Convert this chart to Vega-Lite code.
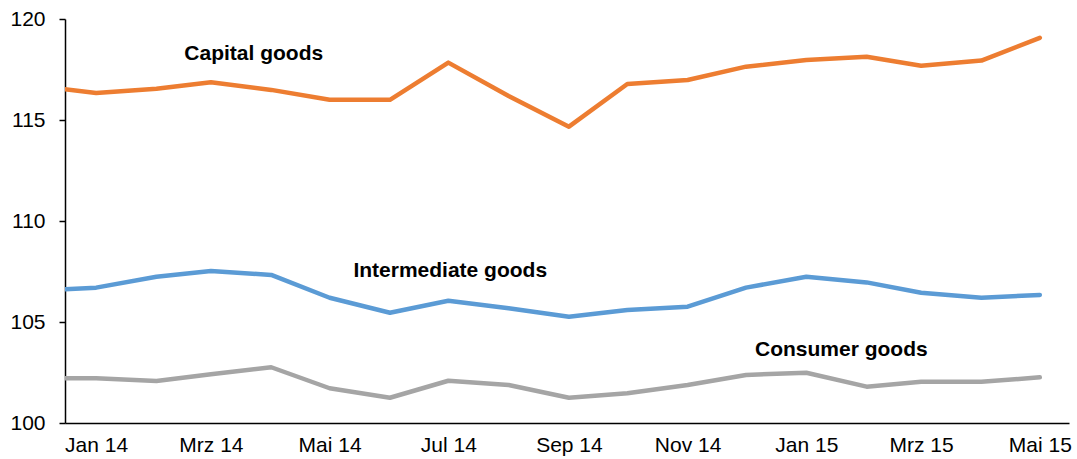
{
  "$schema": "https://vega.github.io/schema/vega-lite/v6.json",
  "width": 1004,
  "height": 404,
  "autosize": "none",
  "padding": {"left": 65, "top": 19, "right": 8, "bottom": 36},
  "background": "white",
  "config": {"view": {"stroke": null}, "font": "Liberation Sans"},
  "datasets": {
    "series": [
      {"date": "2013-12-01", "series": "Capital goods", "value": 116.7},
      {"date": "2014-01-01", "series": "Capital goods", "value": 116.34},
      {"date": "2014-02-01", "series": "Capital goods", "value": 116.55},
      {"date": "2014-03-01", "series": "Capital goods", "value": 116.87},
      {"date": "2014-04-01", "series": "Capital goods", "value": 116.49},
      {"date": "2014-05-01", "series": "Capital goods", "value": 116.0},
      {"date": "2014-06-01", "series": "Capital goods", "value": 116.0},
      {"date": "2014-07-01", "series": "Capital goods", "value": 117.84},
      {"date": "2014-08-01", "series": "Capital goods", "value": 116.19},
      {"date": "2014-09-01", "series": "Capital goods", "value": 114.67},
      {"date": "2014-10-01", "series": "Capital goods", "value": 116.78},
      {"date": "2014-11-01", "series": "Capital goods", "value": 116.98},
      {"date": "2014-12-01", "series": "Capital goods", "value": 117.64},
      {"date": "2015-01-01", "series": "Capital goods", "value": 117.97},
      {"date": "2015-02-01", "series": "Capital goods", "value": 118.13},
      {"date": "2015-03-01", "series": "Capital goods", "value": 117.69},
      {"date": "2015-04-01", "series": "Capital goods", "value": 117.94},
      {"date": "2015-05-01", "series": "Capital goods", "value": 119.07},
      {"date": "2013-12-01", "series": "Intermediate goods", "value": 106.54},
      {"date": "2014-01-01", "series": "Intermediate goods", "value": 106.7},
      {"date": "2014-02-01", "series": "Intermediate goods", "value": 107.24},
      {"date": "2014-03-01", "series": "Intermediate goods", "value": 107.52},
      {"date": "2014-04-01", "series": "Intermediate goods", "value": 107.33},
      {"date": "2014-05-01", "series": "Intermediate goods", "value": 106.2},
      {"date": "2014-06-01", "series": "Intermediate goods", "value": 105.46},
      {"date": "2014-07-01", "series": "Intermediate goods", "value": 106.05},
      {"date": "2014-08-01", "series": "Intermediate goods", "value": 105.68},
      {"date": "2014-09-01", "series": "Intermediate goods", "value": 105.26},
      {"date": "2014-10-01", "series": "Intermediate goods", "value": 105.59},
      {"date": "2014-11-01", "series": "Intermediate goods", "value": 105.76},
      {"date": "2014-12-01", "series": "Intermediate goods", "value": 106.7},
      {"date": "2015-01-01", "series": "Intermediate goods", "value": 107.24},
      {"date": "2015-02-01", "series": "Intermediate goods", "value": 106.96},
      {"date": "2015-03-01", "series": "Intermediate goods", "value": 106.45},
      {"date": "2015-04-01", "series": "Intermediate goods", "value": 106.2},
      {"date": "2015-05-01", "series": "Intermediate goods", "value": 106.34},
      {"date": "2013-12-01", "series": "Consumer goods", "value": 102.21},
      {"date": "2014-01-01", "series": "Consumer goods", "value": 102.21},
      {"date": "2014-02-01", "series": "Consumer goods", "value": 102.08},
      {"date": "2014-03-01", "series": "Consumer goods", "value": 102.41},
      {"date": "2014-04-01", "series": "Consumer goods", "value": 102.76},
      {"date": "2014-05-01", "series": "Consumer goods", "value": 101.72},
      {"date": "2014-06-01", "series": "Consumer goods", "value": 101.25},
      {"date": "2014-07-01", "series": "Consumer goods", "value": 102.09},
      {"date": "2014-08-01", "series": "Consumer goods", "value": 101.88},
      {"date": "2014-09-01", "series": "Consumer goods", "value": 101.25},
      {"date": "2014-10-01", "series": "Consumer goods", "value": 101.47},
      {"date": "2014-11-01", "series": "Consumer goods", "value": 101.88},
      {"date": "2014-12-01", "series": "Consumer goods", "value": 102.38},
      {"date": "2015-01-01", "series": "Consumer goods", "value": 102.49},
      {"date": "2015-02-01", "series": "Consumer goods", "value": 101.8},
      {"date": "2015-03-01", "series": "Consumer goods", "value": 102.04},
      {"date": "2015-04-01", "series": "Consumer goods", "value": 102.04},
      {"date": "2015-05-01", "series": "Consumer goods", "value": 102.26}
    ],
    "labels": [
      {"date": "2014-03-23", "value": 117.97, "label": "Capital goods"},
      {"date": "2014-07-02", "value": 107.24, "label": "Intermediate goods"},
      {"date": "2015-01-19", "value": 103.32, "label": "Consumer goods"}
    ]
  },
  "encoding": {
    "x": {
      "field": "date",
      "type": "temporal",
      "scale": {
        "type": "utc",
        "domain": [
          {"year": 2013, "month": 12, "date": 16, "utc": true},
          {"year": 2015, "month": 5, "date": 16, "utc": true}
        ]
      },
      "axis": {
        "title": null,
        "grid": false,
        "ticks": false,
        "domainColor": "#000000",
        "domainWidth": 1.5,
        "labelFont": "Liberation Sans",
        "labelFontSize": 21,
        "labelColor": "#000000",
        "labelPadding": 11,
        "labelFlush": false,
        "labelOverlap": false,
        "values": [
          {"year": 2014, "month": 1, "date": 1, "utc": true},
          {"year": 2014, "month": 3, "date": 1, "utc": true},
          {"year": 2014, "month": 5, "date": 1, "utc": true},
          {"year": 2014, "month": 7, "date": 1, "utc": true},
          {"year": 2014, "month": 9, "date": 1, "utc": true},
          {"year": 2014, "month": 11, "date": 1, "utc": true},
          {"year": 2015, "month": 1, "date": 1, "utc": true},
          {"year": 2015, "month": 3, "date": 1, "utc": true},
          {"year": 2015, "month": 5, "date": 1, "utc": true}
        ],
        "labelExpr": "['Jan','Feb','Mrz','Apr','Mai','Jun','Jul','Aug','Sep','Okt','Nov','Dez'][utcmonth(datum.value)] + ' ' + utcFormat(datum.value, '%y')"
      }
    },
    "y": {
      "field": "value",
      "type": "quantitative",
      "scale": {"domain": [100, 120], "zero": false, "nice": false},
      "axis": {
        "title": null,
        "grid": false,
        "values": [100, 105, 110, 115, 120],
        "domainColor": "#000000",
        "domainWidth": 1.5,
        "tickColor": "#000000",
        "tickWidth": 1.5,
        "tickSize": 6,
        "labelFont": "Liberation Sans",
        "labelFontSize": 21,
        "labelColor": "#000000",
        "labelPadding": 14
      }
    }
  },
  "layer": [
    {
      "data": {"name": "series"},
      "mark": {"type": "line", "clip": true, "strokeWidth": 4.5, "strokeCap": "round", "strokeJoin": "round"},
      "encoding": {
        "color": {
          "field": "series",
          "type": "nominal",
          "scale": {
            "domain": ["Capital goods", "Intermediate goods", "Consumer goods"],
            "range": ["#ED7D31", "#5B9BD5", "#A5A5A5"]
          },
          "legend": null
        },
        "detail": {"field": "series"}
      }
    },
    {
      "data": {"name": "labels"},
      "mark": {"type": "text", "font": "Liberation Sans", "fontWeight": "bold", "fontSize": 21, "align": "center", "baseline": "alphabetic", "color": "#000000"},
      "encoding": {
        "text": {"field": "label"}
      }
    }
  ]
}
